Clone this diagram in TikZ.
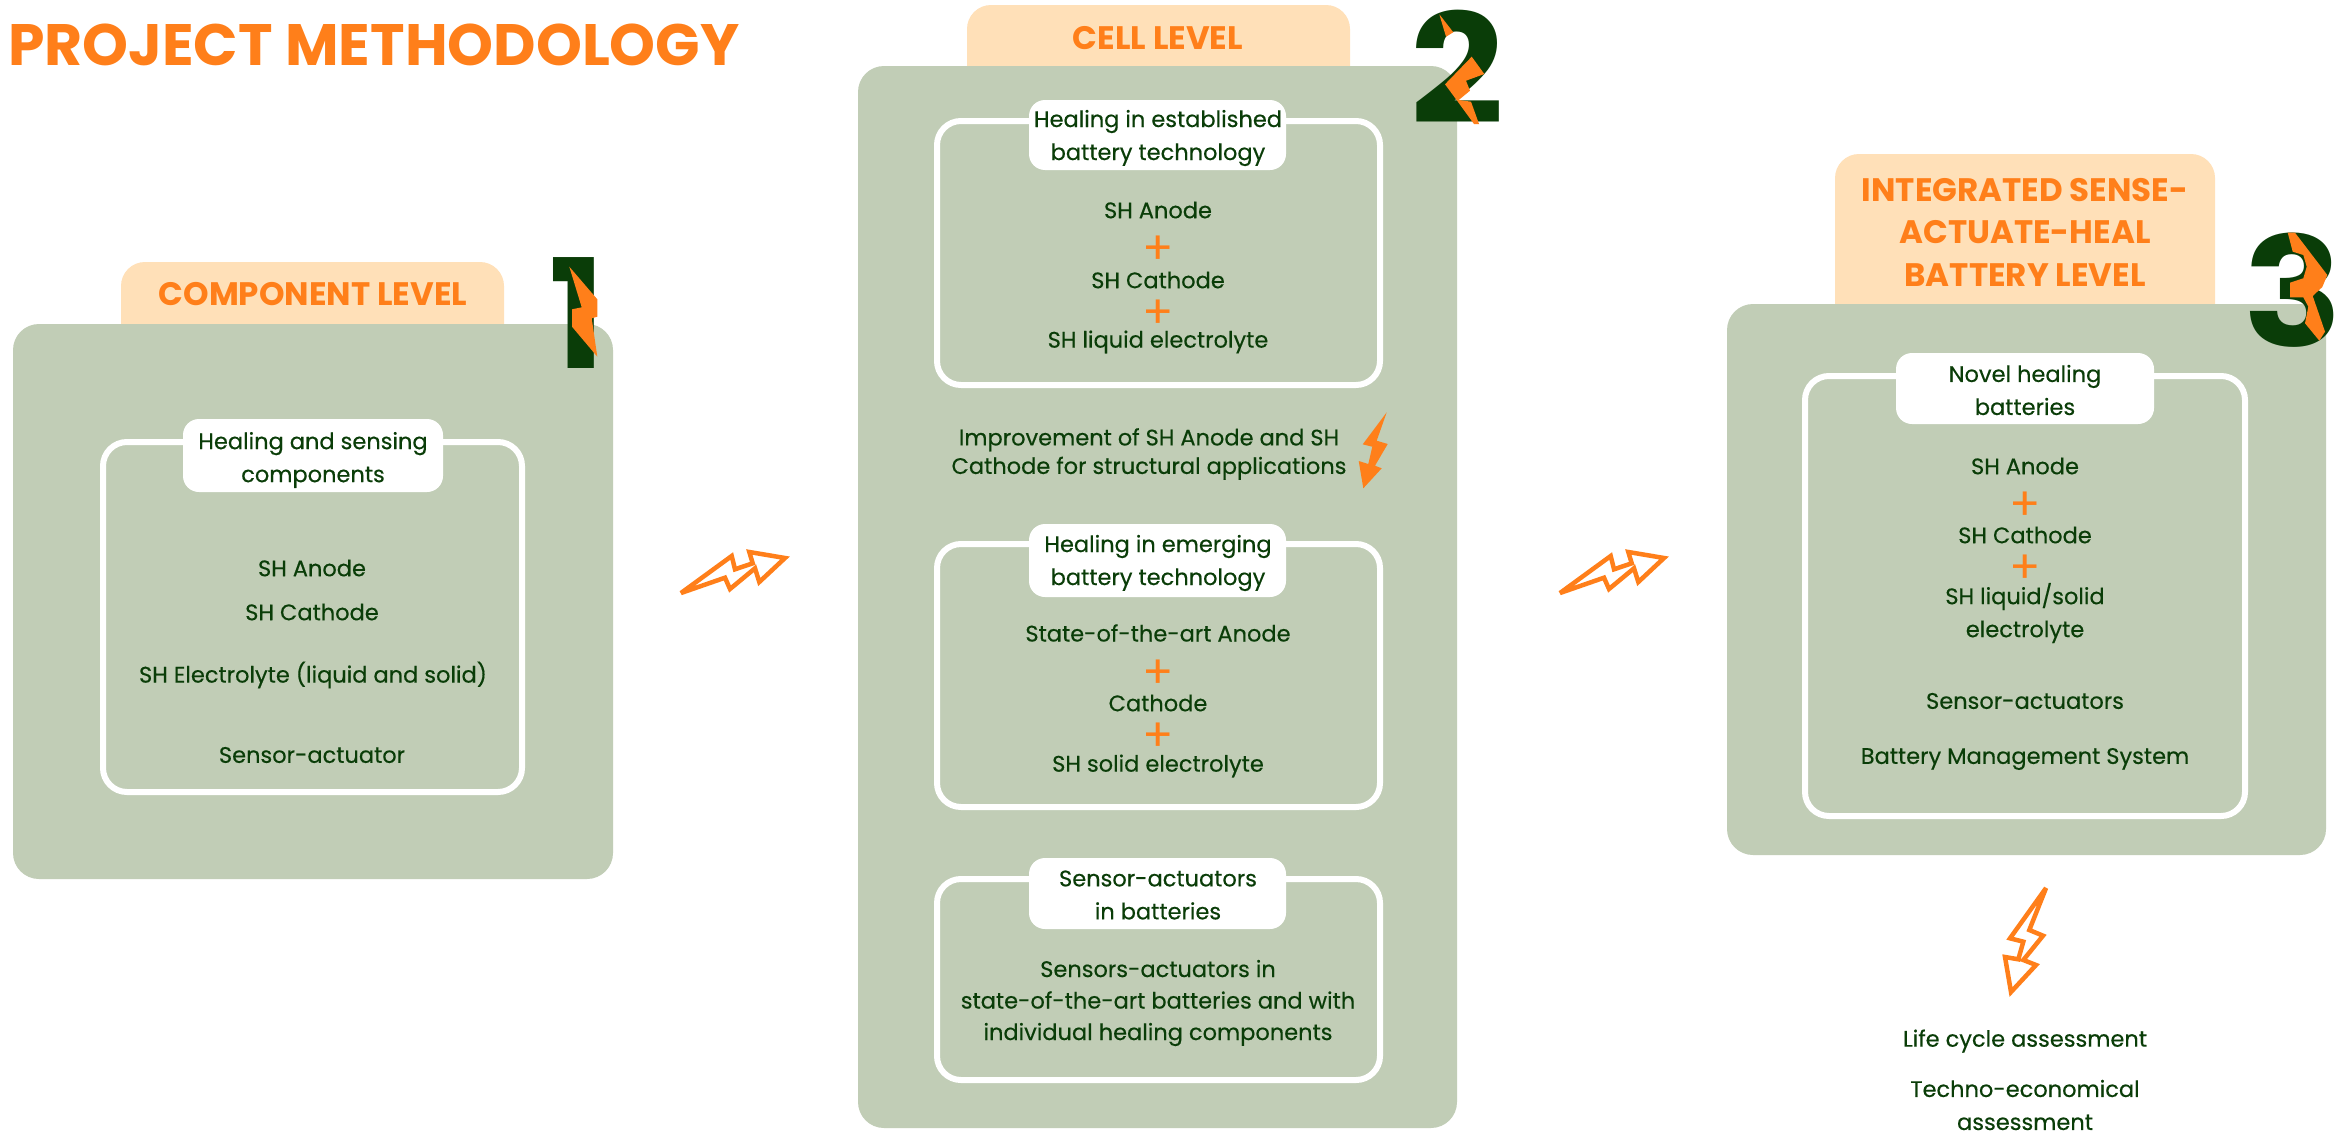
\documentclass[tikz,border=0pt]{standalone}
\usepackage{fontspec}
\setmainfont{Poppins}
\newfontfamily\bodyfont[FakeBold=0.35]{Poppins}
\definecolor{panelc}{HTML}{C1CDB6}
\definecolor{tabc}{HTML}{FFE0B8}
\definecolor{orangec}{HTML}{FF7F1A}
\definecolor{darkc}{HTML}{0A3D08}
\newcommand{\bodyfs}{\bodyfont\fontsize{22.5}{33}\selectfont}
\tikzset{
 panel/.style={fill=panelc,rounded corners=26pt},
 tabbox/.style={fill=tabc,rounded corners=24pt},
 innerbox/.style={draw=white,line width=6pt,rounded corners=24pt},
 labelbox/.style={fill=white,rounded corners=16pt},
 txt/.style={text=darkc,align=center,inner sep=0pt,font=\bodyfs},
 heading/.style={text=orangec,align=center,inner sep=0pt,font=\fontsize{32.5}{42.5}\selectfont\bfseries},
 plusmark/.style={text=orangec,inner sep=0pt,font=\fontsize{46}{20}\selectfont},
 digit/.style={text=darkc,font=\fontsize{152}{152}\selectfont\bfseries,inner sep=0pt},
 boltline/.style={draw=orangec,line width=4.5pt,line join=miter,miter limit=3,fill=white},
 boltfill/.style={fill=orangec},
}
\begin{document}
\begin{tikzpicture}[x=1pt,y=-1pt]
\useasboundingbox (0,0) rectangle (2339,1135);
\fill[white] (0,0) rectangle (2339,1135);
\node[text=orangec,font=\fontsize{58.4}{58}\selectfont\bfseries,anchor=west,inner sep=0pt] (title) at (8,45) {PROJECT METHODOLOGY};

% panel 1
\fill[tabbox] (121,262) rectangle (504,370);
\fill[panel] (13,324) rectangle (613,879);
\node[heading] (h1) at (313,294) {COMPONENT LEVEL};
\draw[innerbox] (103,442) rectangle (522,792);
\fill[labelbox] (183,419) rectangle (443,492);
\node[txt] (l1) at (313,460) {Healing and sensing\\components};
\node[txt] (a1) at (312,568) {SH Anode};
\node[txt] (a2) at (312,612) {SH Cathode};
\node[txt] (a3) at (313,675) {SH Electrolyte (liquid and solid)};
\node[txt] (a4) at (312,755) {Sensor-actuator};
\node[digit] (d1) at (577,313) {\scalebox{.97}[1]{1}};

% panel 2
\fill[tabbox] (967,5) rectangle (1350,110);
\fill[panel] (858,66) rectangle (1457,1128);
\node[heading] (h2) at (1158,38) {CELL LEVEL};
\draw[innerbox] (937,121) rectangle (1380,385);
\fill[labelbox] (1029,100) rectangle (1286,170);
\node[txt] (l2) at (1158,138) {Healing in established\\battery technology};
\node[txt] (b1) at (1158,210) {SH Anode};
\node[plusmark] (p1) at (1158,250) {+};
\node[txt] (b2) at (1158,280) {SH Cathode};
\node[plusmark] (p2) at (1158,314) {+};
\node[txt] (b3) at (1158,342) {SH liquid electrolyte};
\node[txt,font=\bodyfont\fontsize{22.5}{28.5}\selectfont] (imp) at (1149,454) {Improvement of SH Anode and SH\\Cathode for structural applications};
\draw[innerbox] (937,544) rectangle (1380,807);
\fill[labelbox] (1029,524) rectangle (1286,597);
\node[txt] (l3) at (1158,563) {Healing in emerging\\battery technology};
\node[txt] (c1) at (1158,633) {State-of-the-art Anode};
\node[plusmark] (p3) at (1158,674) {+};
\node[txt] (c2) at (1158,703) {Cathode};
\node[plusmark] (p4) at (1158,737) {+};
\node[txt] (c3) at (1158,766) {SH solid electrolyte};
\draw[innerbox] (937,879) rectangle (1380,1080);
\fill[labelbox] (1029,858) rectangle (1286,929);
\node[txt] (l4) at (1158,895) {Sensor-actuators\\in batteries};
\node[txt,font=\bodyfont\fontsize{22.5}{31.5}\selectfont] (e1) at (1158,1003) {Sensors-actuators in\\state-of-the-art batteries and with\\individual healing components};
\fill[boltfill] (1386.7,412.3) -- (1376.7,440.7) -- (1387.7,444) -- (1375,465.7) -- (1381.7,468.3) -- (1363.3,488.3) -- (1358.7,461) -- (1368.3,464) -- (1372.3,446.7) -- (1362.7,444.3) -- cycle;

% panel 3
\fill[tabbox] (1835,154) rectangle (2215,340);
\fill[panel] (1727,304) rectangle (2326,855);
\node[heading] (h3) at (2025,232) {INTEGRATED SENSE-\\ACTUATE-HEAL\\BATTERY LEVEL};
\draw[innerbox] (1805,376) rectangle (2245,816);
\fill[labelbox] (1896,353) rectangle (2154,424);
\node[txt] (l5) at (2025,390) {Novel healing\\batteries};
\node[txt] (f1) at (2025,466) {SH Anode};
\node[plusmark] (p5) at (2025,506) {+};
\node[txt] (f2) at (2025,535) {SH Cathode};
\node[plusmark] (p6) at (2025,569) {+};
\node[txt] (f3) at (2025,613) {SH liquid/solid\\electrolyte};
\node[txt] (f4) at (2025,701) {Sensor-actuators};
\node[txt] (f5) at (2025,759) {Battery Management System};
\node[txt] (g1) at (2025,1041) {Life cycle assessment};
\node[txt] (g2) at (2025,1105) {Techno-economical\\assessment};

% digits
\node[digit] (n2) at (1457,67) {\scalebox{1.08}[1]{2}};
\node[digit] (n3) at (2293,290) {\scalebox{1.08}[1]{3}};
\fill[boltfill] (569.3,266.7) -- (597.3,299.3) -- (597.3,316.7) -- (591.7,318.3) -- (597.3,356.7) -- (572,326.7) -- (572,309.3) -- (581.7,307.3) -- cycle;
\fill[boltfill] (1439.3,14.3) -- (1453.3,32.3) -- (1446,36.7) -- cycle;
\fill[boltfill] (1471.7,56.7) -- (1484.3,74) -- (1466,80.7) -- (1470,90.7) -- (1458.7,100) -- (1471,101.7) -- (1479,124) -- (1474,124) -- (1457.3,101) -- (1445,84.3) -- cycle;
\fill[boltfill] (2287.7,232.7) -- (2295,232.7) -- (2327.3,275) -- (2322.3,287) -- (2312.7,296) -- (2325,331.7) -- (2319.3,340.7) -- (2305,323.3) -- (2308.3,306.7) -- (2303.3,297.3) -- (2290,297.3) -- (2290,282.7) -- (2303.3,278.3) -- (2306.7,266.7) -- (2303.3,255) -- (2292.7,251.7) -- cycle;

% outlined bolts
\draw[boltline] (681,593) -- (731.7,556) -- (735,569.3) -- (752.7,563.3) -- (749.3,552) -- (785,558) -- (759.3,582) -- (755,568.3) -- (730,589) -- (725,577.7) -- cycle;
\draw[boltline] (1560,593) -- (1610.7,556) -- (1614,569.3) -- (1631.7,563.3) -- (1628.3,552) -- (1664,558) -- (1638.3,582) -- (1634,568.3) -- (1609,589) -- (1604,577.7) -- cycle;
\draw[boltline] (2046,888) -- (2029.3,930) -- (2043,935.7) -- (2023.3,960) -- (2036,965) -- (2011,992) -- (2005,957) -- (2018.3,959.3) -- (2023.3,941.7) -- (2010,938.3) -- cycle;
\end{tikzpicture}
\end{document}
